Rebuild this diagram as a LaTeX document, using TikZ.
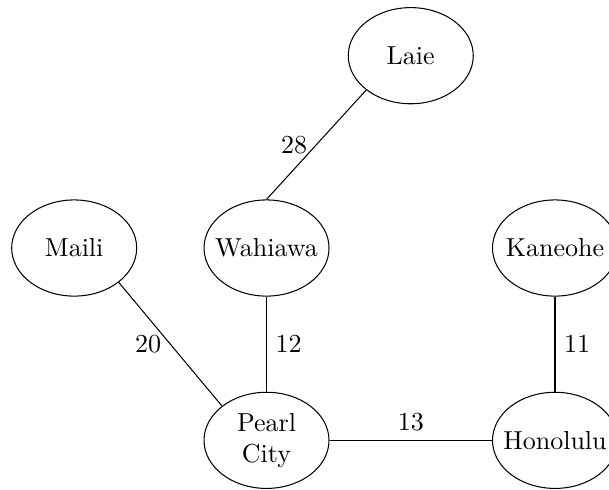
\documentclass[tikz,border=0pt]{standalone}
\usetikzlibrary{shapes.geometric}
\newcommand\cityname[1]{\makebox[0pt]{#1}}

\begin{document}
\begin{tikzpicture}[x=1.3cm,y=1.3cm,
        city/.style={draw,ellipse,minimum width=1.69cm,minimum height=1.3cm,inner sep=0pt,align=center}]
        \useasboundingbox (-1.003cm,-0.658cm) rectangle (7.23cm,5.953cm); % keeps Honolulu cut at the right edge
        \node[city] (maili) at (0,2) {\cityname{Maili}};
        \node[city] (wahiawa) at (2,2) {\cityname{Wahiawa}};
        \node[city] (laie) at (3.5,4) {\cityname{Laie}};
        \node[city] (kaneohe) at (5,2) {\cityname{Kaneohe}};
        \node[city] (pearl) at (2,0) {\cityname{Pearl}\\\cityname{City}};
        \node[city] (honolulu) at (5,0) {\cityname{Honolulu}};
        \draw (laie.south west) -- (wahiawa.north) node[midway,left] {28};
        \draw (maili.south east) -- (pearl.north west) node[midway,left] {20};
        \draw (wahiawa.south) -- (pearl.north) node[midway,right] {12};
        \draw (kaneohe.south) -- (honolulu.north) node[midway,right] {11};
        \draw (pearl.east) -- (honolulu.west) node[midway,above] {13};
    \end{tikzpicture}
\end{document}
